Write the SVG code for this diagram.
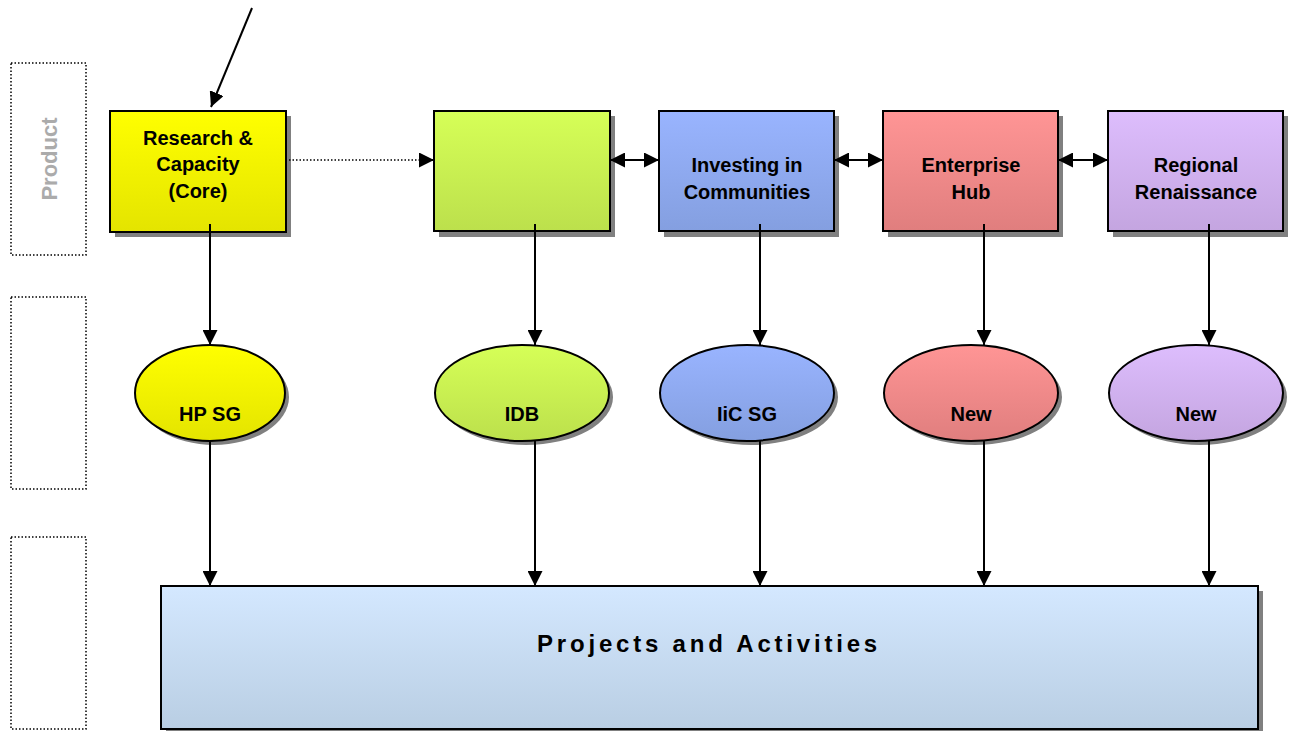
<svg xmlns="http://www.w3.org/2000/svg" width="1298" height="731" viewBox="0 0 1298 731">
<style>
.lbl{font-family:"Liberation Sans",Arial,sans-serif;font-weight:bold;font-size:20px;fill:#000;text-anchor:middle}
.box{stroke:#000;stroke-width:2}
.shadow{fill:#808080}
.conn{stroke:#000;stroke-width:2;fill:none}
.lane{fill:none;stroke:#000;stroke-width:1.5;stroke-dasharray:1.5 2}
</style>
<defs>
<marker id="ah" viewBox="0 0 10 10" refX="10" refY="5" markerWidth="15" markerHeight="15" markerUnits="userSpaceOnUse" orient="auto-start-reverse">
<path d="M0,0 L10,5 L0,10 z" fill="#000"/>
</marker>
<linearGradient id="gY" x1="0" y1="0" x2="0" y2="1"><stop offset="0" stop-color="#ffff00"/><stop offset="1" stop-color="#e4e400"/></linearGradient>
<linearGradient id="gG" x1="0" y1="0" x2="0" y2="1"><stop offset="0" stop-color="#d6ff57"/><stop offset="1" stop-color="#bce04c"/></linearGradient>
<linearGradient id="gB" x1="0" y1="0" x2="0" y2="1"><stop offset="0" stop-color="#99b4ff"/><stop offset="1" stop-color="#849fe0"/></linearGradient>
<linearGradient id="gR" x1="0" y1="0" x2="0" y2="1"><stop offset="0" stop-color="#ff9595"/><stop offset="1" stop-color="#e07e7e"/></linearGradient>
<linearGradient id="gP" x1="0" y1="0" x2="0" y2="1"><stop offset="0" stop-color="#ddbdfd"/><stop offset="1" stop-color="#c4a5e0"/></linearGradient>
<linearGradient id="gL" x1="0" y1="0" x2="0" y2="1"><stop offset="0" stop-color="#d4e8ff"/><stop offset="1" stop-color="#b9cee3"/></linearGradient>
</defs>
<rect width="1298" height="731" fill="#fff"/>

<g id="lanes">
<rect class="lane" x="11" y="63" width="75" height="192"/>
<rect class="lane" x="11" y="297" width="75" height="192"/>
<rect class="lane" x="11" y="537" width="75" height="192"/>
<text transform="translate(57,159) rotate(-90)" x="0" y="0" font-family="Liberation Sans, Arial, sans-serif" font-weight="bold" font-size="22" fill="#ababab" text-anchor="middle">Product</text>
</g>

<g id="n-research">
<rect class="shadow" x="115" y="116" width="176" height="121"/>
<rect class="box" x="110" y="111" width="176" height="121" fill="url(#gY)"/>
<text class="lbl" x="198" y="145">Research &amp;</text>
<text class="lbl" x="198" y="171">Capacity</text>
<text class="lbl" x="198" y="198">(Core)</text>
</g>
<g id="n-green">
<rect class="shadow" x="439" y="116" width="176" height="121"/>
<rect class="box" x="434" y="111" width="176" height="120" fill="url(#gG)"/>
</g>
<g id="n-iic">
<rect class="shadow" x="664" y="116" width="175" height="121"/>
<rect class="box" x="659" y="111" width="175" height="120" fill="url(#gB)"/>
<text class="lbl" x="747" y="172">Investing in</text>
<text class="lbl" x="747" y="199">Communities</text>
</g>
<g id="n-hub">
<rect class="shadow" x="888" y="116" width="175" height="121"/>
<rect class="box" x="883" y="111" width="175" height="120" fill="url(#gR)"/>
<text class="lbl" x="971" y="172">Enterprise</text>
<text class="lbl" x="971" y="199">Hub</text>
</g>
<g id="n-regional">
<rect class="shadow" x="1113" y="116" width="175" height="121"/>
<rect class="box" x="1108" y="111" width="175" height="120" fill="url(#gP)"/>
<text class="lbl" x="1196" y="172">Regional</text>
<text class="lbl" x="1196" y="199">Renaissance</text>
</g>

<g id="e-hpsg">
<ellipse class="shadow" cx="214" cy="397" rx="75" ry="48"/>
<ellipse class="box" cx="210" cy="393" rx="75" ry="48" fill="url(#gY)"/>
<text class="lbl" x="210" y="421">HP SG</text>
</g>
<g id="e-idb">
<ellipse class="shadow" cx="526" cy="397" rx="87" ry="48"/>
<ellipse class="box" cx="522" cy="393" rx="87" ry="48" fill="url(#gG)"/>
<text class="lbl" x="522" y="421">IDB</text>
</g>
<g id="e-iicsg">
<ellipse class="shadow" cx="751" cy="397" rx="87" ry="48"/>
<ellipse class="box" cx="747" cy="393" rx="87" ry="48" fill="url(#gB)"/>
<text class="lbl" x="747" y="421">IiC SG</text>
</g>
<g id="e-new1">
<ellipse class="shadow" cx="975" cy="397" rx="87" ry="48"/>
<ellipse class="box" cx="971" cy="393" rx="87" ry="48" fill="url(#gR)"/>
<text class="lbl" x="971" y="421">New</text>
</g>
<g id="e-new2">
<ellipse class="shadow" cx="1200" cy="397" rx="87" ry="48"/>
<ellipse class="box" cx="1196" cy="393" rx="87" ry="48" fill="url(#gP)"/>
<text class="lbl" x="1196" y="421">New</text>
</g>

<g id="n-projects">
<rect class="shadow" x="166" y="591" width="1097" height="143"/>
<rect class="box" x="161" y="586" width="1097" height="143" fill="url(#gL)"/>
<text x="709" y="652" font-family="Liberation Sans, Arial, sans-serif" font-weight="bold" font-size="24" letter-spacing="3.8" text-anchor="middle">Projects and Activities</text>
</g>

<g id="connectors">
<path class="conn" d="M252,8 L211,107" marker-end="url(#ah)"/>
<path d="M289,160 L420,160" stroke="#000" stroke-width="1.5" stroke-dasharray="1.5 2" fill="none"/>
<path d="M420,160 L434,160" class="conn" marker-end="url(#ah)" stroke-width="0.01"/>
<path class="conn" d="M610,160 L659,160" marker-start="url(#ah)" marker-end="url(#ah)"/>
<path class="conn" d="M834,160 L883,160" marker-start="url(#ah)" marker-end="url(#ah)"/>
<path class="conn" d="M1058,160 L1108,160" marker-start="url(#ah)" marker-end="url(#ah)"/>
<path class="conn" d="M210,224 L210,345" marker-end="url(#ah)"/>
<path class="conn" d="M535,224 L535,345" marker-end="url(#ah)"/>
<path class="conn" d="M760,224 L760,345" marker-end="url(#ah)"/>
<path class="conn" d="M984,224 L984,345" marker-end="url(#ah)"/>
<path class="conn" d="M1209,224 L1209,345" marker-end="url(#ah)"/>
<path class="conn" d="M210,441 L210,586" marker-end="url(#ah)"/>
<path class="conn" d="M535,441 L535,586" marker-end="url(#ah)"/>
<path class="conn" d="M760,441 L760,586" marker-end="url(#ah)"/>
<path class="conn" d="M984,441 L984,586" marker-end="url(#ah)"/>
<path class="conn" d="M1209,441 L1209,586" marker-end="url(#ah)"/>
</g>
</svg>
